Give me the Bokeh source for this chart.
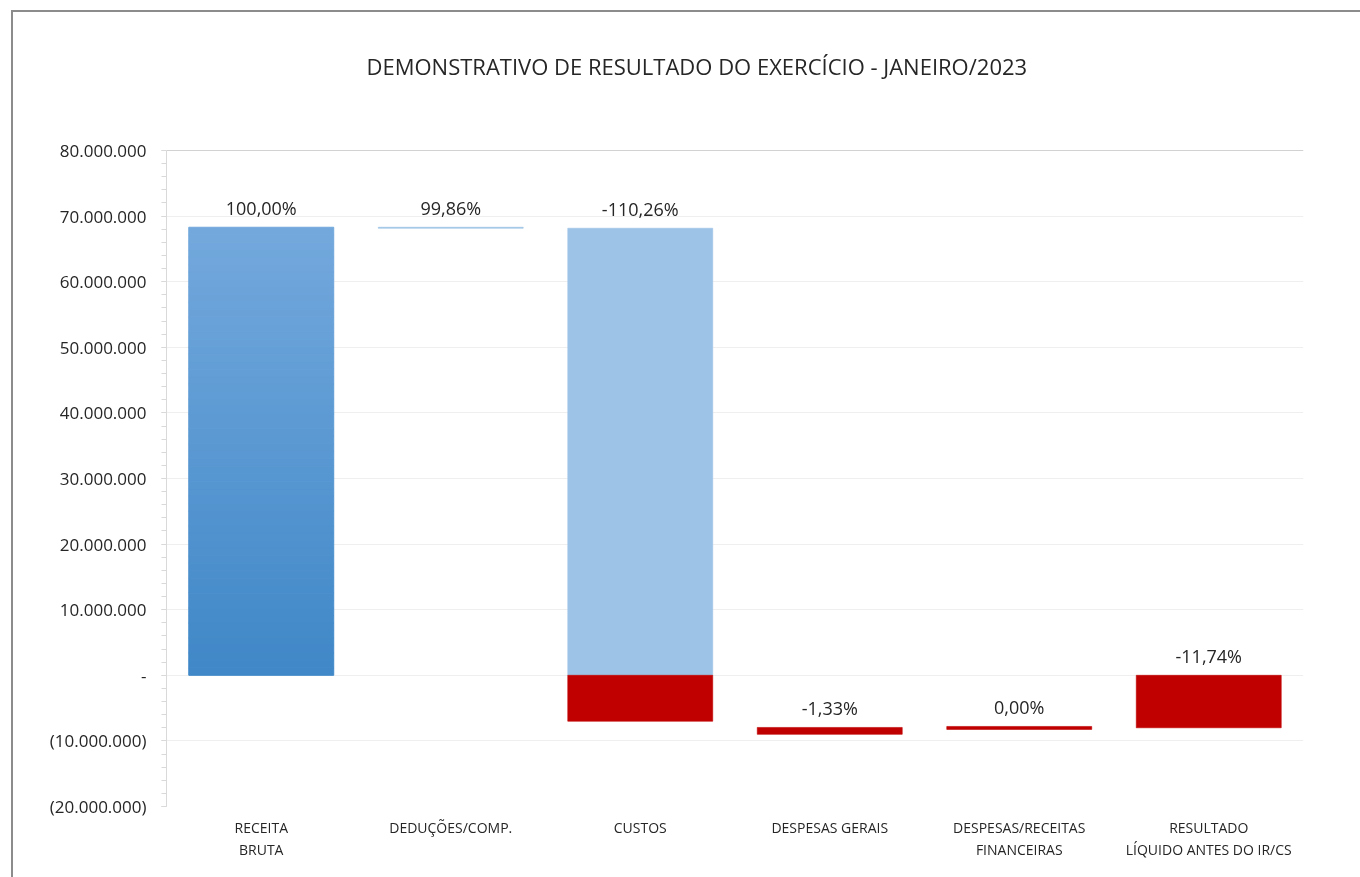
from bokeh.plotting import figure
from bokeh.models import (FixedTicker, CustomJSTickFormatter, Range1d, ColumnDataSource,
                          LabelSet, Title)
from bokeh.core.properties import value
from bokeh.embed import file_html
from bokeh.resources import INLINE

# ---------------- data ----------------
categories = ["RECEITA\nBRUTA", "DEDUÇÕES/COMP.", "CUSTOS", "DESPESAS GERAIS",
              "DESPESAS/RECEITAS\nFINANCEIRAS", "RESULTADO\nLÍQUIDO ANTES DO IR/CS"]
bar_start = [0, 68_300_000, 68_150_000, -7_950_000, -7_800_000, 0]
bar_end = [68_300_000, 68_150_000, -7_000_000, -9_000_000, -8_250_000, -8_000_000]
pct_labels = ["100,00%", "99,86%", "-110,26%", "-1,33%", "0,00%", "-11,74%"]
y_ticks = [-20_000_000, -10_000_000, 0, 10_000_000, 20_000_000, 30_000_000,
           40_000_000, 50_000_000, 60_000_000, 70_000_000, 80_000_000]
title_text = "DEMONSTRATIVO DE RESULTADO DO EXERCÍCIO - JANEIRO/2023"

FONT = "Open Sans"
TXT = "#262626"
BLUE_TOP = (0x74, 0xa9, 0xdd)
BLUE_BOT = (0x40, 0x88, 0xc8)
LIGHT_BLUE = "#9dc3e6"
RED = "#c00000"
BAR_W = 0.765

p = figure(width=1367, height=885, output_backend="svg", toolbar_location=None,
           title=None,
           x_range=Range1d(-0.5, len(categories) - 0.5),
           y_range=Range1d(y_ticks[0], y_ticks[-1]),
           min_border_left=153, min_border_right=77, min_border_top=138, min_border_bottom=91)
p.styles = {"position": "fixed", "left": "11px", "top": "10px",
            "border-left": "2px solid #8c8c8c", "border-top": "2px solid #8c8c8c"}
p.outline_line_color = None
p.background_fill_color = "white"
p.border_fill_color = "white"

# spacer panel between frame and title, then the title itself (outermost)
p.add_layout(Title(text=" ", text_font_size="2px", standoff=66), "above")
p.add_layout(Title(text=title_text, align="left", offset=200, text_font=FONT,
                   text_font_size="22px", text_font_style="normal", text_color=TXT,
                   standoff=0), "above")

# grid
p.xgrid.grid_line_color = None
p.ygrid.grid_line_color = "#efefef"
p.ygrid.ticker = FixedTicker(ticks=y_ticks[:-1])
p.hspan(y=[y_ticks[-1]], line_color="#a6a6a6", line_width=1)

# bars: split each bar into positive (blue) and negative (red) parts
n = len(categories)
for i in range(n):
    lo = min(bar_start[i], bar_end[i])
    hi = max(bar_start[i], bar_end[i])
    pos_lo, pos_hi = max(lo, 0), max(hi, 0)
    neg_lo, neg_hi = min(lo, 0), min(hi, 0)
    if pos_hi > pos_lo:
        if i == 0:
            steps = 60
            for k in range(steps):
                b = pos_lo + (pos_hi - pos_lo) * k / steps
                t = pos_lo + (pos_hi - pos_lo) * (k + 1) / steps
                f = (k + 0.5) / steps
                col = tuple(int(BLUE_BOT[c] + (BLUE_TOP[c] - BLUE_BOT[c]) * f) for c in range(3))
                hexcol = "#%02x%02x%02x" % col
                p.vbar(x=[i], bottom=[b], top=[t], width=BAR_W,
                       fill_color=hexcol, line_color=hexcol, line_width=1)
        else:
            p.vbar(x=[i], bottom=[pos_lo], top=[pos_hi], width=BAR_W,
                   fill_color=LIGHT_BLUE, line_color=LIGHT_BLUE, line_width=0.6)
    if neg_hi > neg_lo:
        p.vbar(x=[i], bottom=[neg_lo], top=[neg_hi], width=BAR_W,
               fill_color=RED, line_color=RED, line_width=0.6)

# labels above each bar (above the bar top, or above zero for bars hanging from zero)
label_y = []
for i in range(n):
    hi = max(bar_start[i], bar_end[i])
    lo = min(bar_start[i], bar_end[i])
    label_y.append(hi if (hi > 0 or lo < hi < 0) else 0)
src = ColumnDataSource(dict(x=list(range(n)), y=label_y, t=pct_labels))
p.add_layout(LabelSet(x="x", y="y", text="t", source=src, text_align="center",
                      text_baseline="bottom", y_offset=7, text_font=value(FONT),
                      text_font_size=value("18px"), text_color=TXT))

# axes
p.xaxis.ticker = FixedTicker(ticks=list(range(n)))
p.xaxis.major_label_overrides = {i: c for i, c in enumerate(categories)}
p.xaxis.axis_line_color = None
p.xaxis.major_tick_line_color = None
p.xaxis.minor_tick_line_color = None
p.xaxis.major_label_text_font = FONT
p.xaxis.major_label_text_font_size = "14px"
p.xaxis.major_label_text_color = TXT
p.xaxis.major_label_standoff = 5

p.yaxis.ticker = FixedTicker(ticks=y_ticks,
                             minor_ticks=list(range(y_ticks[0], y_ticks[-1] + 1, 2_000_000)))
p.yaxis.formatter = CustomJSTickFormatter(code="""
    const a = Math.round(Math.abs(tick));
    if (a === 0) return '-';
    const s = a.toString().replace(/\\B(?=(\\d{3})+(?!\\d))/g, '.');
    return tick < 0 ? '(' + s + ')' : s;
""")
p.yaxis.axis_line_color = "#d9d9d9"
p.yaxis.major_tick_line_color = "#d9d9d9"
p.yaxis.minor_tick_line_color = "#d9d9d9"
p.yaxis.major_tick_in = 0
p.yaxis.major_tick_out = 5
p.yaxis.minor_tick_in = 0
p.yaxis.minor_tick_out = 5
p.yaxis.major_label_text_font = FONT
p.yaxis.major_label_text_font_size = "17px"
p.yaxis.major_label_text_color = TXT
p.yaxis.major_label_standoff = 15

open("out.html", "w").write(file_html(p, INLINE))
